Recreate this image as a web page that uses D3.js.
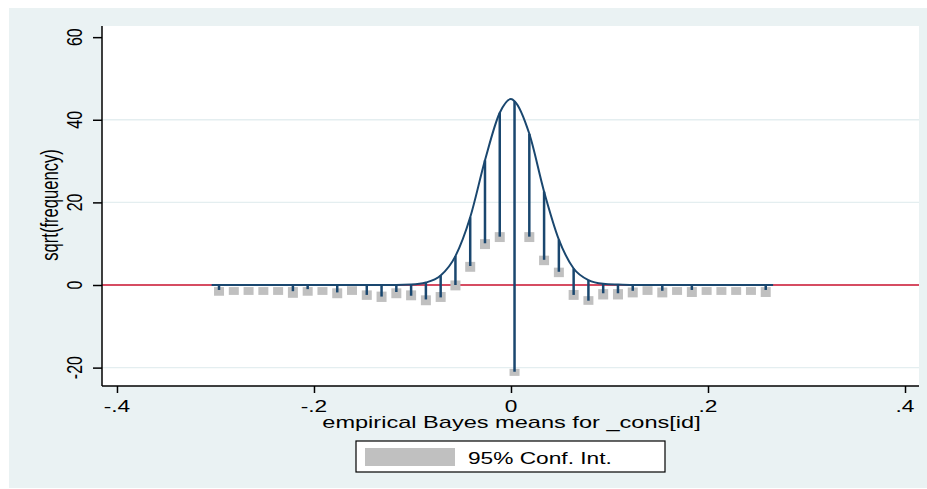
<!DOCTYPE html>
<html>
<head>
<meta charset="utf-8">
<script src="https://cdn.jsdelivr.net/npm/d3@7"></script>
<style>
  body { margin: 0; background: #fff; }
  svg { display: block; }
  text { font-family: "Liberation Sans", Arial, sans-serif; fill: #000; }
</style>
</head>
<body>
<svg></svg>
<script>
/*
*  DATA
*/

// bin centres of the empirical Bayes means
let binX = [-0.2964, -0.2814, -0.2664, -0.2514, -0.2364, -0.2214, -0.2064, -0.1914,
            -0.1764, -0.1614, -0.1464, -0.1314, -0.1164, -0.1014, -0.0864, -0.0714,
            -0.0564, -0.0414, -0.0264, -0.0114, 0.0036, 0.0186, 0.0336, 0.0486,
            0.0636, 0.0786, 0.0936, 0.1086, 0.1236, 0.1386, 0.1536, 0.1686,
            0.1836, 0.1986, 0.2136, 0.2286, 0.2436, 0.2586]

// sqrt(expected frequency) at each bin centre (top of each hanging spike)
let expected = [0, 0, 0, 0, 0, 0, 0, 0,
                0, 0, 0, 0, 0, 0.1, 0.6, 2.3,
                7.0, 16.4, 30.2, 41.7, 44.5, 36.6, 22.6, 11.0,
                4.0, 1.2, 0.3, 0.1, 0, 0, 0, 0,
                0, 0, 0, 0, 0, 0]

// bottom of each spike: expected - sqrt(observed)
let hangBottom = [-1.2, 0, 0, 0, 0, -1.5, -1.0, 0,
                  -1.8, 0, -2.4, -2.8, -1.7, -2.6, -3.5, -3.0,
                  0, 4.6, 10.1, 11.7, -21.0, 11.7, 6.1, 3.2,
                  -2.4, -3.8, -2.0, -2.0, -1.4, 0, -1.4, 0,
                  -1.2, 0, 0, 0, 0, -1.2]

// 95% confidence interval around each bottom
let ciLow = [-2.6, -2.4, -2.4, -2.4, -2.4, -3.1, -2.6, -2.4,
             -3.2, -2.4, -3.6, -4.1, -3.2, -3.7, -4.9, -4.1,
             -1.3, 3.2, 8.7, 10.4, -22.0, 10.4, 4.8, 1.9,
             -3.6, -4.8, -3.5, -3.5, -3.0, -2.4, -3.0, -2.4,
             -2.9, -2.4, -2.4, -2.4, -2.4, -2.9]
let ciHigh = [-0.5, -0.5, -0.5, -0.5, -0.5, -0.5, -0.5, -0.5,
              -0.8, -0.3, -1.3, -1.6, -0.8, -1.3, -2.5, -1.7,
              1.1, 5.6, 11.1, 12.8, -20.3, 12.8, 7.1, 4.2,
              -1.2, -2.7, -1.0, -1.0, -0.6, -0.3, -0.6, -0.5,
              -0.5, -0.5, -0.5, -0.5, -0.5, -0.5]

// extra points of the theoretical curve: its two ends and its peak
let curveEndX = [-0.3039, 0.2661]
let curvePeak = [0, 45.0]

let xTicks = [-0.4, -0.2, 0, 0.2, 0.4]
let xTickLabels = ['-.4', '-.2', '0', '.2', '.4']
let yTicks = [-20, 0, 20, 40, 60]
let yTickLabels = ['-20', '0', '20', '40', '60']
let yGrid = [-20, 20, 40]

/*
*  RUN
*/

let width = 927,
    height = 489,
    sx = 1.42   // the picture is stretched sideways, so is its text

let svg = d3.select('svg').attr('width', width).attr('height', height)

let plot = {left: 102, right: 919, top: 26, bottom: 386}

let x = d3.scaleLinear().domain([-0.4152, 0.4142]).range([plot.left, plot.right])
let y = d3.scaleLinear().domain([-24.45, 62.7]).range([plot.bottom, plot.top])

let navy = '#1a476f'

// backgrounds
svg.append('rect').attr('x', 9).attr('y', 8).attr('width', width - 9).attr('height', 480)
  .attr('fill', '#eaf2f3')
svg.append('rect').attr('x', plot.left).attr('y', plot.top)
  .attr('width', plot.right - plot.left).attr('height', plot.bottom - plot.top)
  .attr('fill', '#fff')

// grid
svg.append('g').selectAll('line').data(yGrid).enter().append('line')
  .attr('x1', plot.left).attr('x2', plot.right)
  .attr('y1', d => y(d)).attr('y2', d => y(d))
  .attr('stroke', '#e4eef0').attr('stroke-width', 1.3)

// reference line at zero
svg.append('line')
  .attr('x1', plot.left).attr('x2', plot.right)
  .attr('y1', y(0)).attr('y2', y(0))
  .attr('stroke', '#c8102e').attr('stroke-width', 1.6)

let bins = binX.map((v, i) => ({x: v, top: expected[i], bottom: hangBottom[i], lo: ciLow[i], hi: ciHigh[i]}))

// confidence interval boxes
svg.append('g').selectAll('rect').data(bins).enter().append('rect')
  .attr('x', d => x(d.x) - 5)
  .attr('width', 10)
  .attr('y', d => y(d.hi))
  .attr('height', d => y(d.lo) - y(d.hi))
  .attr('fill', '#c0c0c0')

// hanging spikes
svg.append('g').selectAll('line').data(bins.filter(d => d.top !== d.bottom)).enter().append('line')
  .attr('x1', d => x(d.x)).attr('x2', d => x(d.x))
  .attr('y1', d => y(d.top)).attr('y2', d => y(d.bottom))
  .attr('stroke', navy).attr('stroke-width', 2.5)

// theoretical curve
let curvePts = bins.map(d => [d.x, d.top])
curvePts.push([curveEndX[0], 0], [curveEndX[1], 0], curvePeak)
curvePts.sort((a, b) => a[0] - b[0])

let line = d3.line().x(d => x(d[0])).y(d => y(d[1])).curve(d3.curveMonotoneX)
svg.append('path').datum(curvePts)
  .attr('d', line)
  .attr('fill', 'none').attr('stroke', navy).attr('stroke-width', 2)

// axes
let xAxis = svg.append('g').attr('transform', `translate(0,${plot.bottom})`)
  .call(d3.axisBottom(x).tickValues(xTicks).tickSize(7).tickSizeOuter(0).tickFormat(''))
let yAxis = svg.append('g').attr('transform', `translate(${plot.left},0)`)
  .call(d3.axisLeft(y).tickValues(yTicks).tickSize(9).tickSizeOuter(0).tickFormat(''))

xAxis.select('.domain').attr('d', `M${plot.left},0H${plot.right}`)
yAxis.select('.domain').attr('d', `M0,${plot.top}V${plot.bottom}`)
svg.selectAll('.domain, .tick line').attr('stroke', '#000').attr('stroke-width', 1.5)

xTicks.forEach((t, i) => stext(x(t), 411.5, xTickLabels[i], 16, 0))
yTicks.forEach((t, i) => stext(81.5, y(t), yTickLabels[i], 16, -90))

// axis titles
stext(511.5, 427.5, 'empirical Bayes means for _cons[id]', 16.6, 0)
stext(58, 205, 'sqrt(frequency)', 16.6, -90)

// legend
let lg = svg.append('g')
lg.append('rect').attr('x', 356).attr('y', 441).attr('width', 309).attr('height', 31)
  .attr('fill', '#fff').attr('stroke', '#000').attr('stroke-width', 1.2)
lg.append('rect').attr('x', 365).attr('y', 448).attr('width', 90).attr('height', 18)
  .attr('fill', '#c0c0c0')
stext(468, 463.5, '95% Conf. Int.', 16, 0, 'start')

/*
*  HELPERS
*/

function stext(px, py, str, size, rot, anchor){
  svg.append('text')
    .attr('transform', `translate(${px},${py}) scale(${sx},1) rotate(${rot})`)
    .attr('text-anchor', anchor || 'middle')
    .style('font-size', size + 'px')
    .text(str)
}
</script>
</body>
</html>
